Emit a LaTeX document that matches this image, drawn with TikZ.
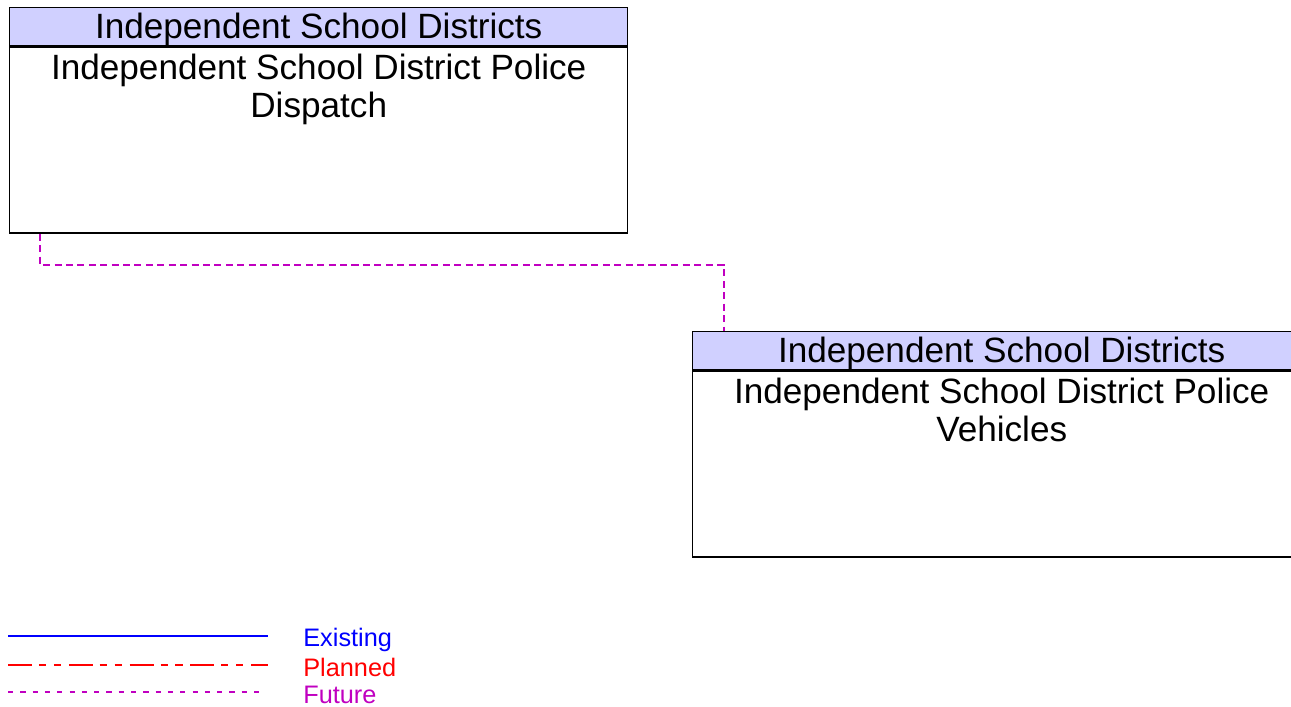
\documentclass[tikz,border=0pt]{standalone}
\usepackage{fontspec}
\setmainfont{Liberation Sans}
\usetikzlibrary{positioning}
\definecolor{headfill}{RGB}{208,208,255}
\definecolor{futurec}{RGB}{192,0,192}

\begin{document}
\begin{tikzpicture}[
    font=\fontsize{20pt}{21.6pt}\selectfont,
    header/.style={rectangle, draw=black, line width=0.8pt, fill=headfill, minimum width=12.36cm, minimum height=0.76cm, inner sep=0pt, text depth=1pt, anchor=north west},
    element/.style={rectangle, draw=black, line width=0.8pt, fill=white, inner sep=0pt, anchor=north},
    future/.style={futurec, line width=0.6pt, dash pattern=on 4pt off 2.5pt},
    legendtext/.style={font=\fontsize{14.4pt}{16pt}\selectfont, anchor=west, inner sep=0pt}
]
    \useasboundingbox (0,0) rectangle (25.82,14.14);
    % elements
    \node[header] (dispatchHead) at (0.18,14.00) {Independent School Districts};
    \node[element, below=0pt of dispatchHead] (dispatch) {\parbox[t][3.72cm][t]{12.36cm}{\centering\rule{0pt}{0.65cm}Independent School District Police\\Dispatch}};
    \node[header] (vehiclesHead) at (13.84,7.52) {Independent School Districts};
    \node[element, below=0pt of vehiclesHead] (vehicles) {\parbox[t][3.72cm][t]{12.36cm}{\centering\rule{0pt}{0.65cm}Independent School District Police\\Vehicles}};
    % flow
    \coordinate (bend) at (0.80,8.84);
    \draw[future] (dispatch.south west -| bend) -- (bend) -| (vehiclesHead.north west -| 14.48,0);
    % legend
    \coordinate (existingL) at (0.16,1.42);
    \coordinate (existingR) at (5.36,1.42);
    \coordinate (plannedL) at (0.16,0.84);
    \coordinate (plannedR) at (5.36,0.84);
    \coordinate (futureL) at (0.16,0.30);
    \coordinate (futureR) at (5.24,0.30);
    \draw[blue, line width=1.1pt] (existingL) -- (existingR);
    \draw[red, line width=0.6pt, dash pattern=on 13.6pt off 4pt on 4pt off 4.5pt on 4pt off 4.5pt] (plannedL) -- (plannedR);
    \draw[future, dash pattern=on 3pt off 4pt] (futureL) -- (futureR);
    \node[legendtext, text=blue] (existing) at (6.06,1.35) {Existing};
    \node[legendtext, text=red] (planned) at (6.06,0.80) {Planned};
    \node[legendtext, text=futurec] (futureT) at (6.06,0.25) {Future};
\end{tikzpicture}
\end{document}
